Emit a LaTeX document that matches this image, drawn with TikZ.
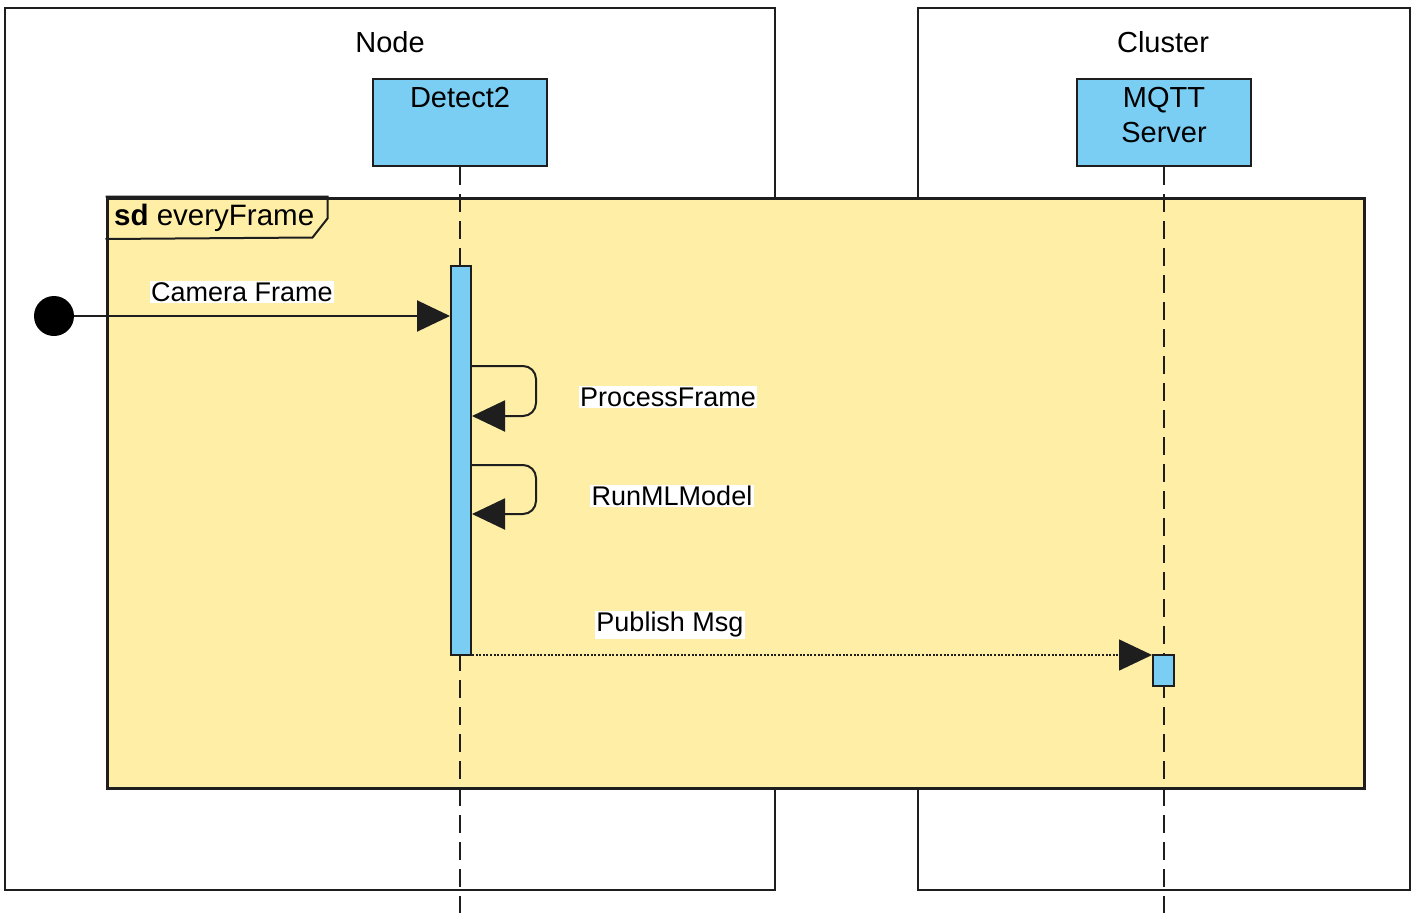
\documentclass[tikz,border=0pt]{standalone}
\usepackage{fontspec}
\setmainfont{Liberation Sans}
\usetikzlibrary{arrows.meta,calc}
\definecolor{actblue}{RGB}{122,206,244}
\definecolor{frameyellow}{RGB}{255,239,166}
\definecolor{ink}{RGB}{30,30,30}
\tikzset{
  box/.style={draw=ink, line width=2pt},
  lifebox/.style={draw=ink, line width=2.5pt, fill=actblue, minimum width=174pt, minimum height=87pt, inner sep=0pt},
  actbar/.style={draw=ink, line width=2pt, fill=actblue, minimum width=20pt, inner sep=0pt},
  lifeline/.style={draw=ink, line width=2pt, dash pattern=on 18pt off 9pt},
  title/.style={font=\fontsize{29}{34}\selectfont, inner sep=0pt},
  msglabel/.style={font=\fontsize{27}{32}\selectfont, fill=white, inner sep=1.5pt},
  msg/.style={draw=ink, line width=2pt, -{Triangle[length=33pt, width=31pt]}},
  reply/.style={draw=ink, line width=1.6pt, dash pattern=on 2pt off 1.6pt, -{Triangle[length=33pt, width=31pt]}},
  startdot/.style={circle, fill=black, minimum size=40pt, inner sep=0pt},
}
\begin{document}
\begin{tikzpicture}[x=1pt, y=-1pt]
\useasboundingbox (0,0) rectangle (1418,913);

% deployment boxes
\node[box, minimum width=770pt, minimum height=882pt, inner sep=0pt] (nodebox) at (390,449) {};
\node[box, minimum width=492pt, minimum height=882pt, inner sep=0pt] (clusterbox) at (1164,449) {};
\node[title] (nodetitle) at (390,42) {Node};
\node[title] (clustertitle) at (1163,42) {Cluster};

% sequence frame
\node[draw=ink, line width=3pt, fill=frameyellow, minimum width=1257pt, minimum height=590pt, inner sep=0pt] (frame) at (735.5,493) {};
\draw[ink, line width=2pt] (frame.north west) -- ++(222,0) coordinate (tabtr) -- ++(0,22) -- ++(-15,19) -- (frame.north west |- 0,239);
\node[anchor=west, font=\fontsize{29.5}{34}\selectfont, inner sep=0pt] (frametitle) at (114,218) {\textbf{sd} everyFrame};

% lifeline heads
\node[lifebox] (det) at (460,122.5) {};
\node[title, anchor=north] (dettext) at ([yshift=-9pt]det.north) {Detect2};
\node[lifebox] (mqtt) at (1164,122.5) {};
\node[title, anchor=north, align=center, font=\fontsize{29}{35}\selectfont] (mqtttext) at ([yshift=-9pt]mqtt.north) {MQTT\\Server};

% lifelines
\coordinate (detend) at (det.south |- 0,913);
\coordinate (mqttend) at (mqtt.south |- 0,913);
\draw[lifeline] (det.south) -- (detend);
\draw[lifeline] (mqtt.south) -- (mqttend);

% activations
\node[actbar, minimum height=389pt] (act) at (461,460.5) {};
\node[actbar, minimum width=21pt, minimum height=31pt] (mqttact) at (1163.5,670.5) {};

% found message
\node[startdot] (start) at (54,316) {};
\draw[msg] (start) -- (act.west |- start);
\node[msglabel] (lblcam) at (242,292) {Camera Frame};

% self calls
\draw[msg, rounded corners=13pt] ($(act.north east)+(0,101)$) coordinate (pf0) -- ++(64,0) -- ++(0,50) -- ++(-64,0);
\node[msglabel] (lblpf) at (668,397) {ProcessFrame};
\draw[msg, rounded corners=13pt] ($(act.north east)+(0,200)$) coordinate (ml0) -- ++(64,0) -- ++(0,49) -- ++(-64,0);
\node[msglabel] (lblml) at (672,496) {RunMLModel};

% publish
\coordinate (pubstart) at ($(act.south east)+(0,-1)$);
\draw[reply] (pubstart) -- (mqttact.west |- pubstart);
\node[msglabel] (lblpub) at (670,625) {Publish Msg};
\end{tikzpicture}
\end{document}
